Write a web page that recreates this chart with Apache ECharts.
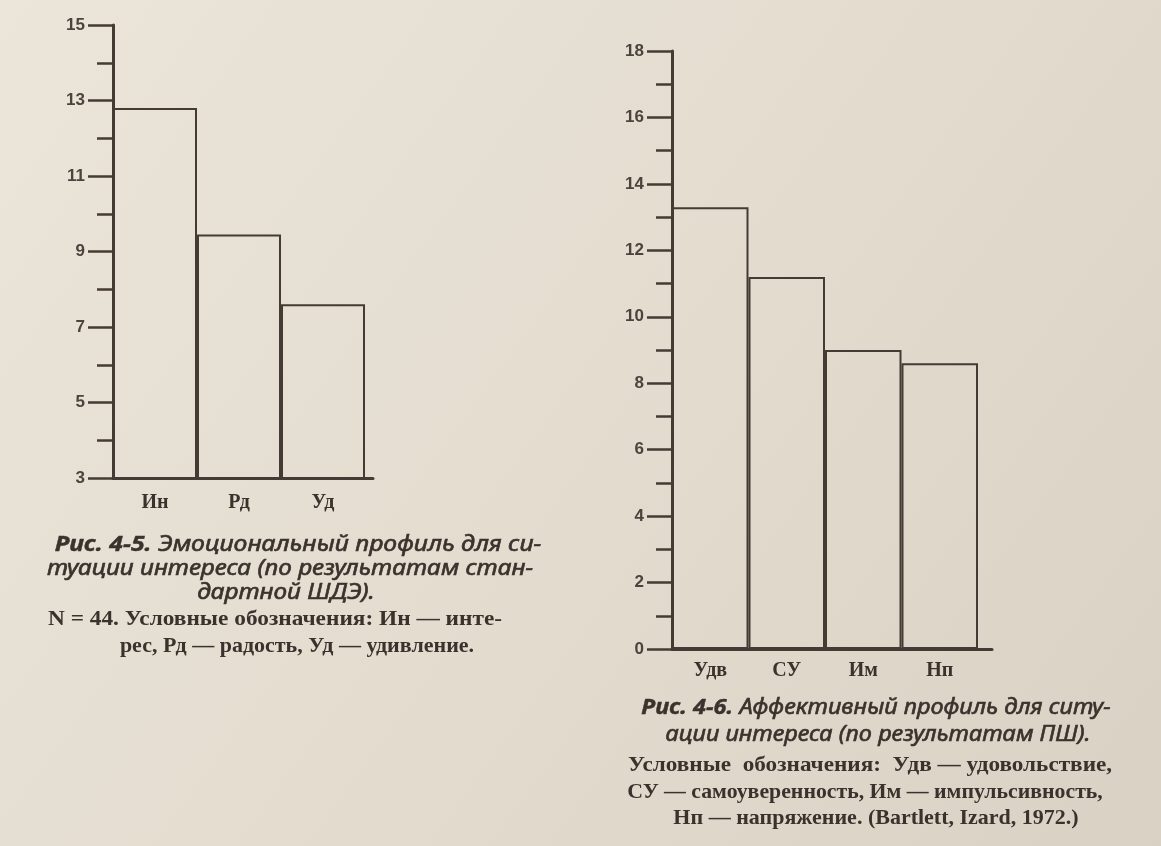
<!DOCTYPE html>
<html>
<head>
<meta charset="utf-8">
<script src="https://cdn.jsdelivr.net/npm/echarts@6/dist/echarts.min.js"></script>
<style>
html,body{margin:0;padding:0;background:#e4ddd1;}
#chart{width:1161px;height:846px;}
</style>
</head>
<body>
<div id="chart"></div>
<script>
// ---- Data ----
const leftCategories = ['Ин', 'Рд', 'Уд'];
const leftValues = [12.8, 9.45, 7.6];
const leftTicks = [3, 5, 7, 9, 11, 13, 15];

const rightCategories = ['Удв', 'СУ', 'Им', 'Нп'];
const rightValues = [13.3, 11.2, 9.0, 8.6];
const rightTicks = [0, 2, 4, 6, 8, 10, 12, 14, 16, 18];

const leftCaption = [
  ['Рис. 4-5.', ' Эмоциональный профиль для си-'],
  ['', 'туации интереса (по результатам стан-'],
  ['', 'дартной ШДЭ).']
];
const leftNote = [
  'N = 44. Условные обозначения: Ин — инте-',
  'рес, Рд — радость, Уд — удивление.'
];
const rightCaption = [
  ['Рис. 4-6.', ' Аффективный профиль для ситу-'],
  ['', 'ации интереса (по результатам ПШ).']
];
const rightNote = [
  'Условные  обозначения:  Удв — удовольствие,',
  'СУ — самоуверенность, Им — импульсивность,',
  'Нп — напряжение. (Bartlett, Izard, 1972.)'
];

// ---- Styles ----
const INK = '#453b35';
const TEXT = '#3a322d';
const LABEL = '#4b433e';

const chart = echarts.init(document.getElementById('chart'), null, {renderer: 'canvas'});

function valueAxis(gridIndex, min, max, ticks) {
  return {
    type: 'value', gridIndex, min, max, interval: 2,
    axisLine: {show: true, lineStyle: {color: INK, width: 3}},
    axisTick: {show: true, length: 25, lineStyle: {color: INK, width: 2.5}},
    minorTick: {show: true, splitNumber: 2, length: 16, lineStyle: {color: INK, width: 2.5}},
    splitLine: {show: false},
    axisLabel: {
      margin: 28, color: LABEL, fontFamily: 'Liberation Sans', fontWeight: 'bold', fontSize: 17,
      formatter: v => ticks.indexOf(v) >= 0 ? String(v) : ''
    }
  };
}
function catAxis(gridIndex, cats, margin) {
  return {
    type: 'category', gridIndex, data: cats, boundaryGap: true,
    axisLine: {show: false},
    axisTick: {show: false},
    axisLabel: {margin, color: TEXT, fontFamily: 'Liberation Serif', fontWeight: 'bold', fontSize: 20}
  };
}
function baseAxis(gridIndex) {
  return {
    type: 'value', gridIndex, min: 0, max: 1,
    axisLine: {show: true, onZero: false, lineStyle: {color: INK, width: 3}},
    axisTick: {show: false}, axisLabel: {show: false}, splitLine: {show: false}
  };
}
function hiddenAxis(gridIndex) {
  return {type: 'value', gridIndex, min: 0, max: 1, show: false};
}

const ITALIC = 'italic 21px "Noto Sans"';
const ITALIC_B = 'italic bold 21px "Noto Sans"';
const SERIF = 'bold 22px "Liberation Serif"';

function captionText(lines, xs, ys, sx) {
  return lines.map((ln, i) => ({
    type: 'text', x: xs[i], y: ys[i], scaleX: sx[i],
    style: {
      text: (ln[0] ? '{b|' + ln[0] + '}' : '') + ln[1],
      x: 0, y: 0, align: 'center', verticalAlign: 'middle',
      fill: TEXT, font: ITALIC, stroke: TEXT, lineWidth: 0.6,
      rich: {b: {font: ITALIC_B, fill: TEXT, stroke: TEXT, lineWidth: 0.4}}
    }
  }));
}
function noteLines(lines, centers, ys, sx) {
  return lines.map((t, i) => ({
    type: 'text', x: centers[i], y: ys[i], scaleX: sx[i],
    style: {
      text: t, x: 0, y: 0, align: 'center', verticalAlign: 'middle',
      fill: TEXT, font: SERIF
    }
  }));
}

const graphics = []
  .concat(captionText(leftCaption, [298, 290, 286], [545, 569, 593], [1.18, 1.16, 1.16]))
  .concat(noteLines(leftNote, [275, 297], [619, 646], [1.06, 1.0]))
  .concat(captionText(rightCaption, [876, 878], [708, 735], [1.12, 1.12]))
  .concat(noteLines(rightNote, [870, 865, 876], [765, 792, 818], [1.055, 0.99, 1.0]));

const option = {
  animation: false,
  backgroundColor: {
    type: 'linear', x: 0, y: 0, x2: 1, y2: 1,
    colorStops: [
      {offset: 0, color: '#ebe5da'},
      {offset: 0.5, color: '#e3dccf'},
      {offset: 1, color: '#d9d1c4'}
    ]
  },
  grid: [
    {left: 113, top: 25, width: 252, height: 453},
    {left: 672, top: 51, width: 306, height: 598},
    {left: 113, top: 25, width: 260, height: 453},
    {left: 672, top: 51, width: 320, height: 598}
  ],
  xAxis: [
    catAxis(0, leftCategories, 15),
    catAxis(1, rightCategories, 12),
    baseAxis(2),
    baseAxis(3)
  ],
  yAxis: [
    valueAxis(0, 3, 15, leftTicks),
    valueAxis(1, 0, 18, rightTicks),
    hiddenAxis(2),
    hiddenAxis(3)
  ],
  series: [
    {
      type: 'bar', xAxisIndex: 0, yAxisIndex: 0, data: leftValues,
      barCategoryGap: '0%',
      itemStyle: {color: 'rgba(0,0,0,0)', borderColor: INK, borderWidth: 2},
      z: 3
    },
    {
      type: 'bar', xAxisIndex: 1, yAxisIndex: 1, data: rightValues,
      barCategoryGap: '0%',
      itemStyle: {color: 'rgba(0,0,0,0)', borderColor: INK, borderWidth: 2},
      z: 3
    }
  ],
  graphic: graphics
};
chart.setOption(option);
</script>
</body>
</html>
